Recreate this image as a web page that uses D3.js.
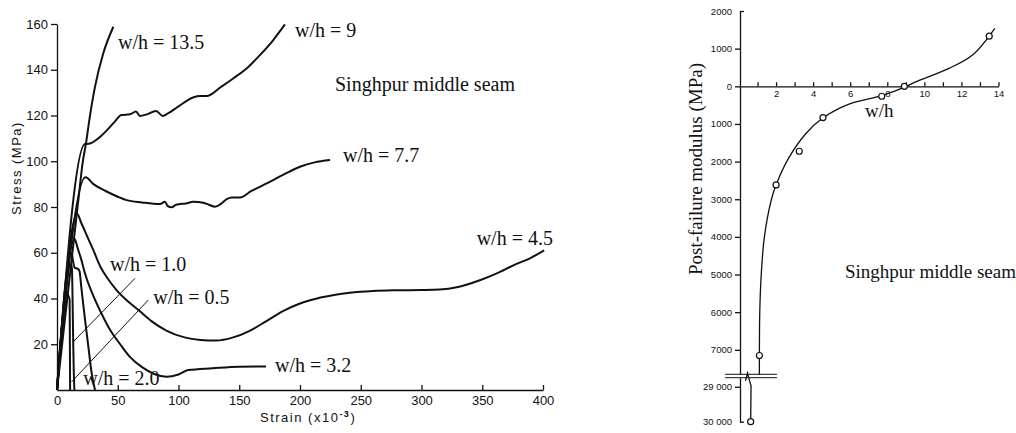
<!DOCTYPE html>
<html>
<head>
<meta charset="utf-8">
<script src="https://cdn.jsdelivr.net/npm/d3@7"></script>
<style>
    body { margin: 0; background: #fff; }
    svg { display: block; }
    .axis path, .axis line { stroke: #111; stroke-width: 1.3px; }
    .axis text { fill: #111; font-family: "Liberation Sans", Arial, sans-serif; }
    .serif { font-family: "Liberation Serif", "Times New Roman", serif; fill: #111; }
</style>
</head>
<body>
<div id="chart"></div>
<script>
const WIDTH = 1016;
const HEIGHT = 433;

// Left panel: stress-strain curves, [strain (x10^-3), stress (MPa)]
const curve0_5 = [[0, 0], [8.5, 42], [9.5, 41], [10.4, 39.5], [10.6, 20], [10.8, 0]];
const curve1_0 = [[0, 0], [11.5, 55], [12.3, 53], [12.8, 40], [13.3, 22], [13.8, 8], [14.3, 0]];
const curve2_0 = [[0, 0], [12, 60], [13, 57], [14.5, 53.5], [17, 53], [18.5, 52], [20, 45], [23, 31], [25.8, 19], [28.5, 7.5], [31.3, 0]];
const curve3_2 = [[0, 0], [14.5, 66], [17, 62], [20, 57], [23, 51], [30, 41], [37, 33], [44, 26], [52, 20], [60, 14.5], [70, 10], [80, 7], [90, 5.8], [100, 6.8], [108, 8.7], [128, 9.5], [150, 10.2], [172, 10.3]];
const curve4_5 = [[0, 0], [16.5, 77], [20, 73], [25, 67], [30, 61], [35.6, 54], [42, 48.5], [49, 43.7], [60, 38], [68, 34.5], [78, 30], [90, 26], [105, 23], [118, 21.9], [131, 21.6], [145, 23], [159, 26], [172, 30], [186, 34.5], [200, 37.8], [214, 40], [228, 41.5], [241, 42.5], [260, 43.3], [280, 43.6], [300, 43.7], [315, 43.9], [330, 45], [348, 48], [362, 51], [375.6, 54.5], [390, 57.8], [401, 61]];
const curve7_7 = [[0, 0], [23.5, 93], [30, 90], [40, 87], [50, 84.5], [57.3, 83], [70, 82], [84.8, 81.3], [88.9, 82.3], [91, 80.5], [94.4, 79.9], [98, 81], [101, 81.3], [106, 81.5], [112, 82.3], [120.4, 81.9], [125, 81], [130, 80.1], [135.5, 81.6], [140, 83.5], [143.8, 84.2], [150.6, 84.2], [160, 87], [172.6, 90.3], [186, 94], [200, 97.6], [212, 99.5], [224.7, 100.5]];
const curve9 = [[0, 0], [23, 107.5], [26, 107.6], [28.5, 108], [34, 110], [41, 113.5], [47, 117], [53, 120.2], [60, 120.5], [65, 121.7], [68.3, 119.8], [73.8, 120.5], [81.5, 122], [87, 119.8], [91.6, 121], [100, 124], [112, 127.9], [118, 128.5], [123, 128.5], [135, 132.5], [145, 136.2], [157, 141], [167, 146.4], [178, 153], [187.6, 159.8]];
const curve13_5 = [[0, 0], [18.4, 87], [21, 99], [23.9, 108], [26.6, 118], [31.3, 132.6], [38.1, 147.2], [46.4, 158.8]];

const strainTicks = [0, 50, 100, 150, 200, 250, 300, 350, 400];
const stressTicks = [20, 40, 60, 80, 100, 120, 140, 160];

// Curve labels: [text, strain, stress] at the text's start/baseline
const leftLabels = [
    ["w/h = 13.5", 50.2, 149],
    ["w/h = 9", 195.9, 154.3],
    ["w/h = 7.7", 235.4, 99.6],
    ["w/h = 4.5", 345.4, 63.4],
    ["w/h = 1.0", 43.6, 51.9],
    ["w/h = 0.5", 79.3, 37.6],
    ["w/h = 2.0", 21.6, 2.2],
    ["w/h = 3.2", 179.4, 7.9],
    ["Singhpur middle seam", 228.8, 130.5]
];
// Leader lines: [strainFrom, stressFrom, strainTo, stressTo]
const leaders = [
    [64.2, 48.8, 13.4, 21.1],
    [75.1, 39.3, 12.1, 3.6]
];

// Right panel: post-failure modulus vs w/h
const pointW = [0.63, 1.1, 2.0, 3.25, 4.53, 7.7, 8.92, 13.5];
const pointV = [-30000, -7150, -2620, -1725, -830, -265, 0, 1330];
const fitW = [1.1, 1.1, 1.12, 1.2, 1.37, 1.75, 2.0, 2.7, 3.6, 4.5, 5.9, 7.7, 9.0, 9.5, 11.3, 12.6, 13.8];
const fitV = [-7650, -7150, -6000, -5000, -4000, -3000, -2620, -1890, -1260, -850, -480, -250, -10, 110, 470, 830, 1540];
const lowerW = [0.63, 0.65, 0.57, 0.46, 0.35];
const lowerV = [-30000, -28972, -28832, -28608, -28832];
const modulusTicksTop = [2000, 1000, 0, -1000, -2000, -3000, -4000, -5000, -6000, -7000];
const modulusTicksBottom = [-29000, -30000];
const ratioTicks = d3.range(1, 15);

const svg = d3.select("#chart")
    .append("svg")
    .attr("width", WIDTH)
    .attr("height", HEIGHT);

// ---------- left panel ----------
const xL = d3.scaleLinear().domain([0, 400]).range([57, 543]);
const yL = d3.scaleLinear().domain([0, 160]).range([390, 24]);

svg.append("g")
    .attr("class", "axis")
    .attr("transform", `translate(0, ${yL(0)})`)
    .call(d3.axisBottom(xL).tickValues(strainTicks).tickSize(-5).tickPadding(6).tickSizeOuter(0))
    .selectAll("text")
    .style("font-size", "13px");

svg.append("g")
    .attr("class", "axis")
    .attr("transform", `translate(${xL(0)}, 0)`)
    .call(d3.axisLeft(yL).tickValues(stressTicks).tickSize(6).tickPadding(3).tickSizeOuter(0))
    .selectAll("text")
    .style("font-size", "13px");

const xLabel = svg.append("text")
    .attr("x", 260)
    .attr("y", 422)
    .style("font-family", "'Liberation Sans', Arial, sans-serif")
    .style("font-size", "13px")
    .style("letter-spacing", "1.5px")
    .style("fill", "#111");
xLabel.append("tspan").text("Strain (x10");
xLabel.append("tspan").attr("dy", -5).style("font-size", "9px").style("font-weight", "bold").text("-3");
xLabel.append("tspan").attr("dy", 5).text(")");

svg.append("text")
    .attr("transform", "translate(21, 168) rotate(-90)")
    .attr("text-anchor", "middle")
    .style("font-family", "'Liberation Sans', Arial, sans-serif")
    .style("font-size", "13px")
    .style("letter-spacing", "1.5px")
    .style("fill", "#111")
    .text("Stress (MPa)");

const lineL = d3.line()
    .x(d => xL(d[0]))
    .y(d => yL(d[1]))
    .curve(d3.curveMonotoneX);

const curves = [curve0_5, curve1_0, curve2_0, curve3_2, curve4_5, curve7_7, curve9, curve13_5];
svg.append("g")
    .selectAll("path")
    .data(curves)
    .join("path")
    .attr("d", lineL)
    .attr("fill", "none")
    .attr("stroke", "#111")
    .attr("stroke-width", 2)
    .attr("stroke-linejoin", "round");

svg.append("g")
    .selectAll("line")
    .data(leaders)
    .join("line")
    .attr("x1", d => xL(d[0]))
    .attr("y1", d => yL(d[1]))
    .attr("x2", d => xL(d[2]))
    .attr("y2", d => yL(d[3]))
    .attr("stroke", "#111")
    .attr("stroke-width", 1);

svg.append("g")
    .selectAll("text")
    .data(leftLabels)
    .join("text")
    .attr("class", "serif")
    .attr("x", d => xL(d[1]))
    .attr("y", d => yL(d[2]))
    .style("font-size", "20px")
    .text(d => d[0]);

// ---------- right panel ----------
const xR = d3.scaleLinear().domain([0, 14]).range([739, 998.5]);
const yTop = d3.scaleLinear().domain([2000, -7650]).range([11, 374.3]);
const yBot = d3.scaleLinear().domain([-28740, -30000]).range([377.7, 421.7]);

// Negative moduli are shown without sign, large ones grouped as "29 000"
const modulusFormat = d => {
    const s = String(Math.abs(d));
    return s.length > 4 ? s.slice(0, 2) + " " + s.slice(2) : s;
};

const topAxis = svg.append("g")
    .attr("class", "axis")
    .attr("transform", `translate(${xR(0) + 1}, 0)`)
    .call(d3.axisLeft(yTop).tickValues(modulusTicksTop).tickFormat(modulusFormat).tickSize(5).tickPadding(3).tickSizeOuter(0));
topAxis.selectAll(".tick line").filter(d => d === 2000).attr("x2", 4);
topAxis.selectAll("text").style("font-size", "9.5px");

const botAxis = svg.append("g")
    .attr("class", "axis")
    .attr("transform", `translate(${xR(0) + 1}, 0)`)
    .call(d3.axisLeft(yBot).tickValues(modulusTicksBottom).tickFormat(modulusFormat).tickSize(5).tickPadding(3).tickSizeOuter(0));
botAxis.selectAll(".tick line").filter(d => d === -30000).attr("x2", 4);
botAxis.selectAll("text").style("font-size", "9.5px");

svg.append("g")
    .attr("class", "axis")
    .attr("transform", `translate(0, ${yTop(0)})`)
    .call(d3.axisBottom(xR).tickValues(ratioTicks).tickFormat(d => d % 2 === 0 ? d : "").tickSize(-4).tickPadding(4).tickSizeOuter(0))
    .selectAll("text")
    .style("font-size", "9.5px");

// Axis break marks
svg.append("g")
    .selectAll("line")
    .data([yTop(-7650), yBot(-28740)])
    .join("line")
    .attr("x1", xR(-0.75))
    .attr("x2", xR(2.05))
    .attr("y1", d => d)
    .attr("y2", d => d)
    .attr("stroke", "#111")
    .attr("stroke-width", 1);

const fitData = fitW.map((w, i) => [w, fitV[i]]);
svg.append("path")
    .datum(fitData)
    .attr("d", d3.line().x(d => xR(d[0])).y(d => yTop(d[1])).curve(d3.curveCatmullRom.alpha(0.5)))
    .attr("fill", "none")
    .attr("stroke", "#111")
    .attr("stroke-width", 1.3);

const lowerData = lowerW.map((w, i) => [w, lowerV[i]]);
svg.append("path")
    .datum(lowerData)
    .attr("d", d3.line().x(d => xR(d[0])).y(d => yBot(d[1])))
    .attr("fill", "none")
    .attr("stroke", "#111")
    .attr("stroke-width", 1.3);

const pointData = pointW.map((w, i) => [w, pointV[i]]);
svg.append("g")
    .selectAll("circle")
    .data(pointData)
    .join("circle")
    .attr("cx", d => xR(d[0]))
    .attr("cy", d => d[1] < -20000 ? yBot(d[1]) : yTop(d[1]))
    .attr("r", 3)
    .attr("fill", "#fff")
    .attr("stroke", "#111")
    .attr("stroke-width", 1.2);

svg.append("text")
    .attr("class", "serif")
    .attr("transform", "translate(702, 169) rotate(-90)")
    .attr("text-anchor", "middle")
    .style("font-size", "19px")
    .text("Post-failure modulus (MPa)");

svg.append("text")
    .attr("class", "serif")
    .attr("x", xR(6.8))
    .attr("y", yTop(-815))
    .style("font-size", "19px")
    .text("w/h");

svg.append("text")
    .attr("class", "serif")
    .attr("x", xR(5.72))
    .attr("y", yTop(-5092))
    .style("font-size", "19px")
    .text("Singhpur middle seam");
</script>
</body>
</html>
